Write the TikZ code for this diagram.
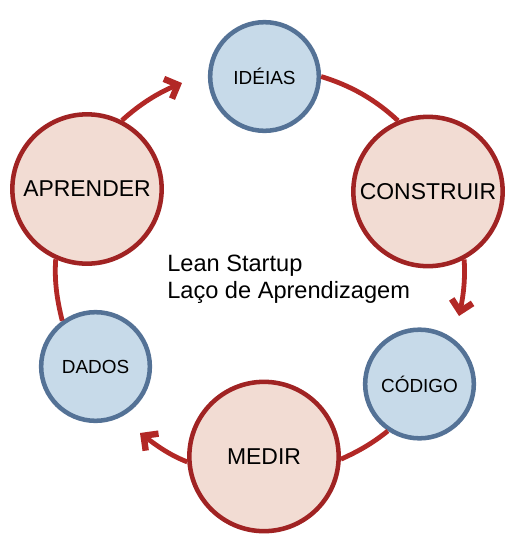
\documentclass[tikz,border=0pt]{standalone}
\usepackage{fontspec}
\setmainfont{Liberation Sans}
\usepackage{tikz}
\usetikzlibrary{arrows.meta}
\definecolor{ringred}{RGB}{178,40,38}
\definecolor{rimred}{RGB}{160,35,35}
\definecolor{pinkfill}{RGB}{242,220,211}
\definecolor{bluefill}{RGB}{199,218,233}
\definecolor{rimblue}{RGB}{84,114,150}

\begin{document}
\begin{tikzpicture}[x=0.75pt,y=0.75pt,
  bigstep/.style={circle, draw=rimred, fill=pinkfill, line width=3.4pt, minimum size=112pt, inner sep=0pt, font=\fontsize{17.2}{20}\selectfont},
  smallstep/.style={circle, draw=rimblue, fill=bluefill, line width=3.4pt, minimum size=81.5pt, inner sep=0pt, font=\fontsize{14.2}{16}\selectfont},
  ring/.style={draw=ringred, line width=3.6pt, looseness=0.9},
  turn/.style={ring, -{Straight Barb[length=8pt,width=16pt,line width=4.8pt]}}]
\useasboundingbox (0,0) rectangle (530,-551);

%Circles
\node (ideias) [smallstep] at (264.5,-76.5) {IDÉIAS};
\node (construir) [bigstep] at (428,-191.5) {CONSTRUIR};
\node (codigo) [smallstep] at (419.5,-384) {CÓDIGO};
\node (medir) [bigstep] at (264,-456.5) {MEDIR};
\node (dados) [smallstep] at (95.5,-366.5) {DADOS};
\node (aprender) [bigstep] at (87,-189) {APRENDER};

%Arrow ends
\coordinate (tipA) at (182,-83);
\coordinate (tipB) at (459,-316);
\coordinate (tipC) at (140,-433);

%Curved Lines
\draw [turn] (aprender.63) to [out=42.5, in=202.4] (tipA);
\draw [ring] (ideias.east) to [out=-17, in=137] (construir.113);
\draw [turn] (construir.-62) to [out=-86, in=78] (tipB);
\draw [ring] (codigo.236) to [out=-141, in=24] (medir.-2);
\draw [turn] (medir.184) to [out=159, in=-37] (tipC);
\draw [ring] (dados.126) to [out=104, in=-94] (aprender.246);

% Text Node
\node (title) [anchor=base west, inner sep=0pt, align=left, font=\fontsize{17.7}{19.9}\selectfont] at (167,-298) {Lean Startup\\Laço de Aprendizagem};

\end{tikzpicture}
\end{document}
